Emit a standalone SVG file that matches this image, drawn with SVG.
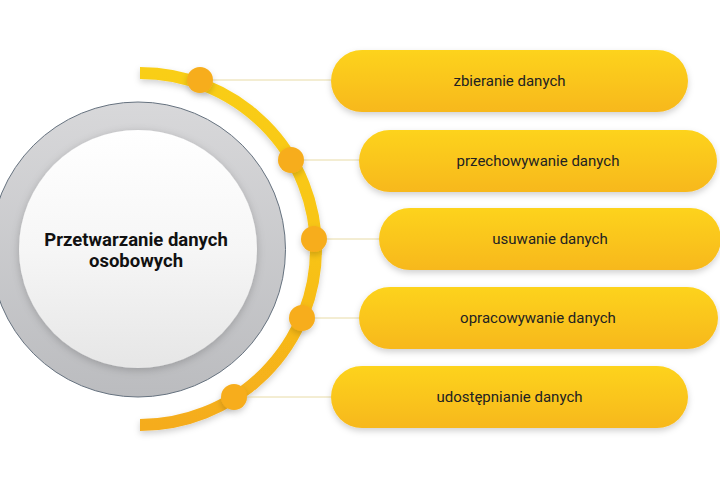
<svg xmlns="http://www.w3.org/2000/svg" width="720" height="500" viewBox="0 0 720 500">
<defs>
  <linearGradient id="pillGrad" x1="0" y1="0" x2="0" y2="1">
    <stop offset="0" stop-color="#FDD31B"/>
    <stop offset="1" stop-color="#F7B81C"/>
  </linearGradient>
  <linearGradient id="arcGrad" x1="0" y1="0" x2="0" y2="1">
    <stop offset="0" stop-color="#F9CE18"/>
    <stop offset="0.5" stop-color="#F8C417"/>
    <stop offset="1" stop-color="#F5AC1B"/>
  </linearGradient>
  <linearGradient id="ringGrad" x1="0" y1="0" x2="0" y2="1">
    <stop offset="0" stop-color="#D8D8DA"/>
    <stop offset="1" stop-color="#BBBCBF"/>
  </linearGradient>
  <linearGradient id="innerGrad" x1="0" y1="0" x2="0" y2="1">
    <stop offset="0" stop-color="#FFFFFF"/>
    <stop offset="0.5" stop-color="#F6F6F6"/>
    <stop offset="1" stop-color="#E6E6E6"/>
  </linearGradient>
  <filter id="shadow" x="-20%" y="-30%" width="140%" height="170%">
    <feDropShadow dx="0" dy="3" stdDeviation="3" flood-color="#000" flood-opacity="0.18"/>
  </filter>
  <filter id="softShadow" x="-20%" y="-20%" width="140%" height="140%">
    <feDropShadow dx="0" dy="2" stdDeviation="4" flood-color="#000" flood-opacity="0.2"/>
  </filter>
</defs>
<style>
  .pill { fill: url(#pillGrad); filter: url(#shadow); }
  .label { font-family: Roboto, "Liberation Sans", sans-serif; font-size: 15px; fill: #222222; text-anchor: middle; }
  .title { font-family: Roboto, "Liberation Sans", sans-serif; font-size: 18.5px; font-weight: bold; fill: #111111; text-anchor: middle; }
  .link { stroke: #E8DBA6; stroke-width: 1; fill: none; }
  .dot { fill: #F7AD1B; filter: url(#shadow); }
</style>
<rect width="720" height="500" fill="#FFFFFF"/>

<g id="center">
  <circle cx="138" cy="249.5" r="147.5" fill="url(#ringGrad)" stroke="#66727F" stroke-width="1"/>
  <circle cx="138" cy="249" r="119" fill="url(#innerGrad)" filter="url(#softShadow)"/>
  <text class="title" x="136" y="245.5">Przetwarzanie danych</text>
  <text class="title" x="136" y="266.5">osobowych</text>
</g>

<g id="connectors">
  <path d="M140 73 A176 176 0 0 1 140 425" stroke="url(#arcGrad)" stroke-width="12" fill="none" filter="url(#shadow)"/>
  <line class="link" x1="213" y1="80" x2="331" y2="80"/>
  <line class="link" x1="304" y1="160" x2="360" y2="160"/>
  <line class="link" x1="327" y1="239" x2="379" y2="239"/>
  <line class="link" x1="315" y1="318" x2="360" y2="318"/>
  <line class="link" x1="247" y1="397" x2="331" y2="397"/>
  <circle class="dot" cx="200" cy="80" r="13"/>
  <circle class="dot" cx="291" cy="160" r="13"/>
  <circle class="dot" cx="314" cy="239" r="13"/>
  <circle class="dot" cx="302" cy="318" r="13"/>
  <circle class="dot" cx="234" cy="397" r="13"/>
</g>

<g id="node1">
  <rect class="pill" x="331" y="50" width="357" height="62" rx="31"/>
  <text class="label" x="509.5" y="86">zbieranie danych</text>
</g>
<g id="node2">
  <rect class="pill" x="359" y="130" width="358" height="62" rx="31"/>
  <text class="label" x="538" y="165.5">przechowywanie danych</text>
</g>
<g id="node3">
  <rect class="pill" x="379" y="208" width="342" height="62" rx="31"/>
  <text class="label" x="550" y="244">usuwanie danych</text>
</g>
<g id="node4">
  <rect class="pill" x="359" y="287" width="359" height="62" rx="31"/>
  <text class="label" x="538" y="323">opracowywanie danych</text>
</g>
<g id="node5">
  <rect class="pill" x="331" y="366" width="357" height="62" rx="31"/>
  <text class="label" x="509.5" y="402">udostępnianie danych</text>
</g>
</svg>
